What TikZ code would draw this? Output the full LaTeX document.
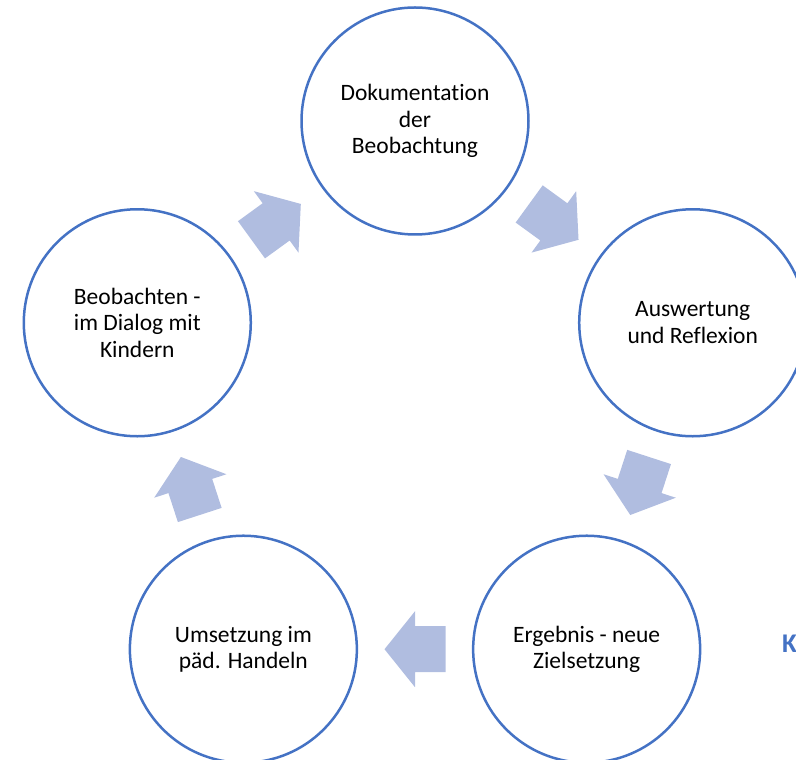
\documentclass[tikz,border=0pt]{standalone}
\usepackage{fontspec}
\setmainfont{Carlito}[Ligatures=NoCommon]
\usetikzlibrary{calc}
\definecolor{ringblue}{RGB}{68,114,196}
\definecolor{arrowfill}{RGB}{176,189,224}
\begin{document}
\begin{tikzpicture}[x=1pt,y=1pt,
  stage/.style={circle, draw=ringblue, line width=2.5pt, minimum size=227pt,
    inner sep=0pt, align=center, text=black,
    font=\fontsize{23.5}{26.5}\selectfont},
  cyclearrow/.style={fill=arrowfill, draw=none}
]
\useasboundingbox (0,0) rectangle (796,760);
\clip (0,0) rectangle (796,760);
\coordinate (c) at (415,347);
\node[stage] (top)   at ($(c)+(90:292)$)   {Dokumentation\\der\\Beobachtung};
\node[stage] (right) at ($(c)+(18:292)$)   {Auswertung\\und Reflexion};
\node[stage] (br)    at ($(c)+(-54:292)$)  {Ergebnis - neue\\Zielsetzung};
\node[stage] (bl)    at ($(c)+(-126:292)$) {Umsetzung im\\päd. Handeln};
\node[stage] (left)  at ($(c)+(162:292)$)  {Beobachten -\\im Dialog mit\\Kindern};
\foreach \a/\b/\ang in {left/top/36, top/right/-36, right/br/-108, br/bl/180, bl/left/108}{
  \begin{scope}[shift={($(\a)!0.5!(\b)$)}, rotate=\ang]
    \fill[cyclearrow] (-30.5,-23) -- (0,-23) -- (0,-38) -- (30.5,0) -- (0,38) -- (0,23) -- (-30.5,23) -- cycle;
  \end{scope}
}
\node[anchor=base west, inner sep=0pt, text=ringblue, font=\fontsize{27}{30}\selectfont\bfseries] (k) at (782,107) {K};
\end{tikzpicture}
\end{document}
